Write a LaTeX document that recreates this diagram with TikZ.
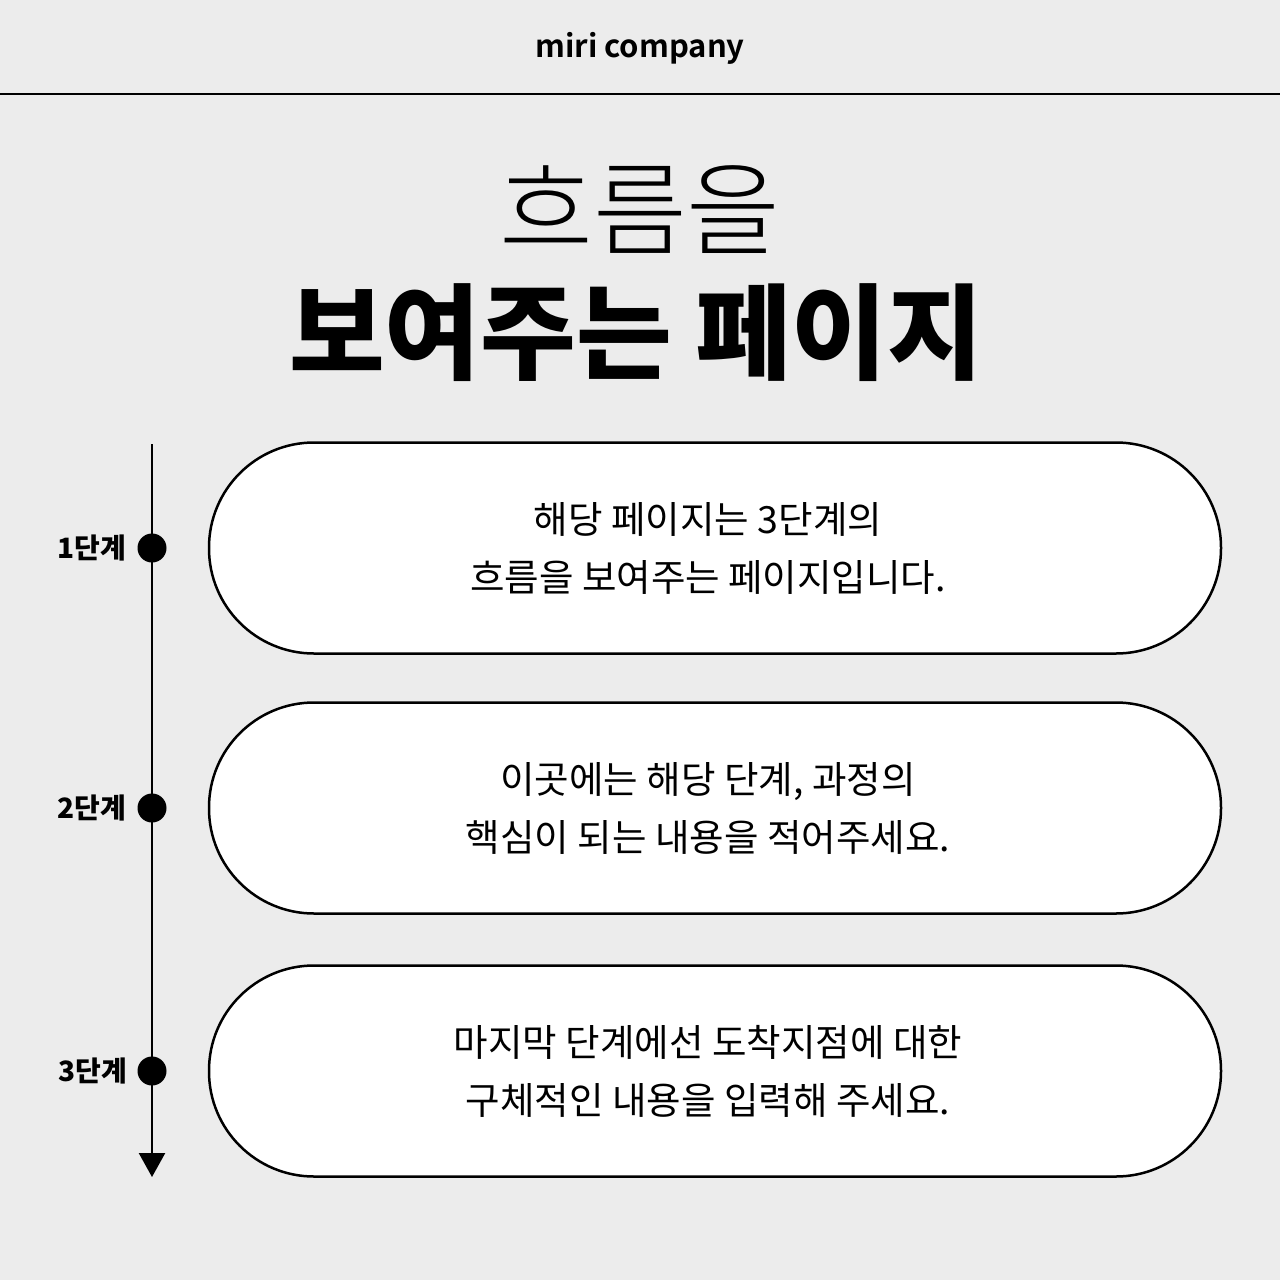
\documentclass[tikz,border=0pt]{standalone}
\usepackage{fontspec}
\usetikzlibrary{arrows.meta}
\newfontfamily\krreg{Noto Sans CJK KR}
\newfontfamily\krlight{Noto Sans CJK KR Light}
\newfontfamily\krblack{Noto Sans CJK KR Black}
\newfontfamily\krbold{Noto Sans CJK KR Bold}
\definecolor{bgcol}{RGB}{236,236,236}
\tikzset{
  pill/.style={draw=black, line width=2.5pt, fill=white, rounded corners=105pt,
    minimum width=1012pt, minimum height=211pt, inner sep=0pt},
  pilltext/.style={inner sep=0pt, font=\krreg\fontsize{37.5}{58}\selectfont, align=center},
  dot/.style={circle, fill=black, minimum size=29pt, inner sep=0pt},
  steplabel/.style={anchor=west, inner sep=0pt, font=\krblack\fontsize{28}{30}\selectfont},
  tl/.style={line width=2.5pt, -{Triangle[width=26pt,length=24pt]}}
}
\begin{document}
\begin{tikzpicture}[x=1pt,y=-1pt]
\useasboundingbox (0,0) rectangle (1280,1280);
\fill[bgcol] (0,0) rectangle (1280,1280);
\node[font=\krbold\fontsize{31}{34}\selectfont, inner sep=0pt] (brand) at (640,48) {miri company};
\coordinate (hl) at (0,94);
\coordinate (hr) at (1280,94);
\draw[line width=2pt] (hl) -- (hr);
\node[font=\krlight\fontsize{102}{110}\selectfont, inner sep=0pt] (t1) at (640,210) {흐름을};
\node[font=\krblack\fontsize{104}{110}\selectfont, inner sep=0pt] (t2) at (636,333) {보여주는 페이지};
\node[pill] (p1) at (715,548) {};
\node[pill] (p2) at (715,808) {};
\node[pill] (p3) at (715,1071) {};
\node[pilltext] (x1) at ([xshift=-7pt]p1.center) {해당 페이지는 3단계의\\흐름을 보여주는 페이지입니다.};
\node[pilltext] (x2) at ([xshift=-7pt]p2.center) {이곳에는 해당 단계, 과정의\\핵심이 되는 내용을 적어주세요.};
\node[pilltext] (x3) at ([xshift=-7pt]p3.center) {마지막 단계에선 도착지점에 대한\\구체적인 내용을 입력해 주세요.};
\coordinate (top) at (152,444);
\coordinate (bot) at (152,1177);
\draw[tl] (top) -- (bot);
\node[dot] (d1) at (152,548) {};
\node[dot] (d2) at (152,808) {};
\node[dot] (d3) at (152,1071) {};
\node[steplabel] (l1) at (57,548) {1단계};
\node[steplabel] (l2) at (57,808) {2단계};
\node[steplabel] (l3) at (58,1071) {3단계};
\end{tikzpicture}
\end{document}
